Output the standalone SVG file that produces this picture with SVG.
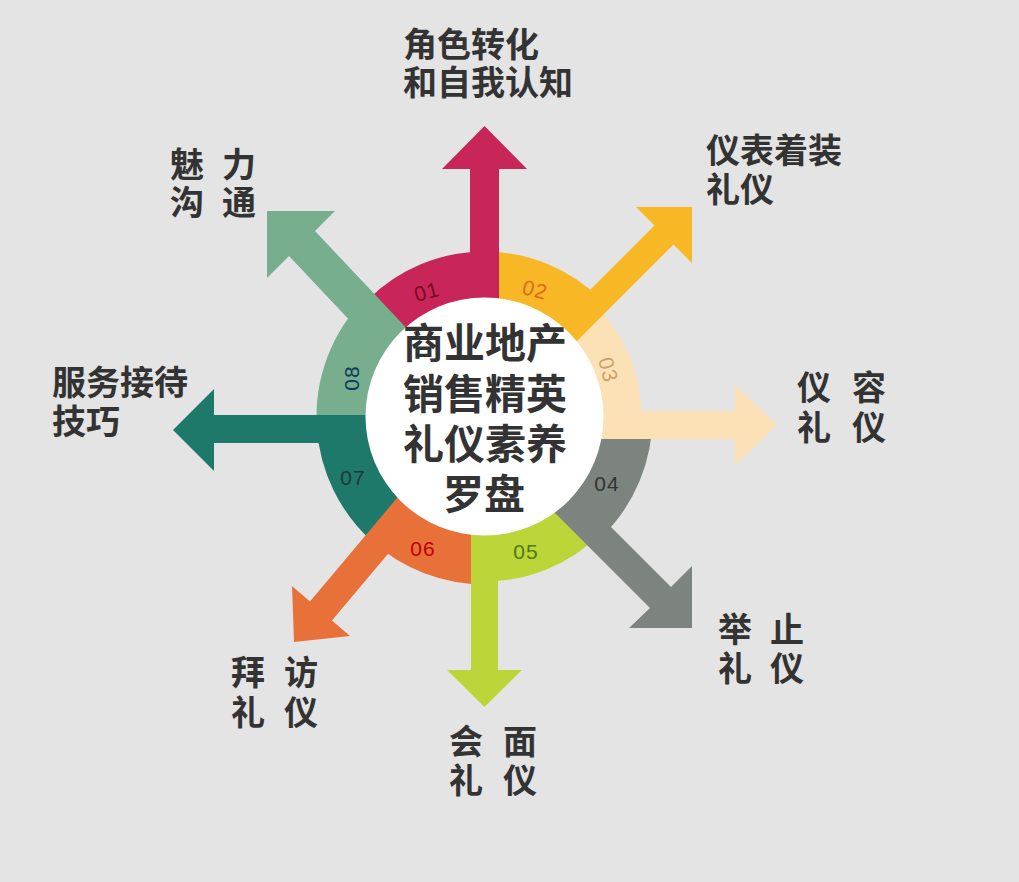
<svg xmlns="http://www.w3.org/2000/svg" width="1019" height="882" viewBox="0 0 1019 882">
<style>
.lbl{font-family:'Liberation Sans','Noto Sans CJK SC',sans-serif;font-weight:bold;font-size:34px;fill:#333333}
.ctr{font-family:'Liberation Sans','Noto Sans CJK SC',sans-serif;font-weight:bold;font-size:41px;fill:#333333;text-anchor:middle}
.num{font-family:'Liberation Sans',Arial,sans-serif;font-size:21px;text-anchor:middle;letter-spacing:1px}
</style>
<rect width="1019" height="882" fill="#E4E4E4"/>
<g id="ring">
<path id="seg01" d="M484.5 416.5 L367.83 299.83 A165 165 0 0 1 484.5 251.5 Z" fill="#C82558"/>
<path id="seg02" d="M484.5 416.5 L484.5 251.5 A165 165 0 0 1 601.17 299.83 Z" fill="#F8B826"/>
<path id="seg03" d="M484.5 416.5 L595.52 305.48 A157 157 0 0 1 641.5 416.5 Z" fill="#FCE1B6"/>
<path id="seg04" d="M484.5 416.5 L652.5 416.5 A168 168 0 0 1 603.29 535.29 Z" fill="#7D847F"/>
<path id="seg05" d="M484.5 416.5 L601.17 533.17 A165 165 0 0 1 484.5 581.5 Z" fill="#BCD63A"/>
<path id="seg06" d="M484.5 416.5 L484.5 584.5 A168 168 0 0 1 372.09 541.35 Z" fill="#E8713A"/>
<path id="seg07" d="M484.5 416.5 L372.09 541.35 A168 168 0 0 1 316.91 428.22 Z" fill="#1E796A"/>
<path id="seg08" d="M484.5 416.5 L316.91 428.22 A168 168 0 0 1 365.71 297.71 Z" fill="#77AE8E"/>
</g>
<g id="connectors">
<polygon id="arrow01" points="470,330 470,169 442,169 484.5,126 527,169 499,169 499,330" fill="#C82558"/>
<polygon id="arrow02" points="510,370 654.5,225.5 636,207 692,207 692,263 673.5,244.5 530,388" fill="#F8B826"/>
<polygon id="arrow03" points="560,411 735,411 735,385 777,425 735,465 735,439 560,439" fill="#FCE1B6"/>
<polygon id="arrow04" points="540,456 671,587 692,566 692,628 629,628 650,608 520,478" fill="#7D847F"/>
<polygon id="arrow05" points="471,500 471,670 447,670 484.5,707 522,670 498,670 498,500" fill="#BCD63A"/>
<polygon id="arrow06" points="420,470.6 310,601.5 292,586 294,642 350,636 332,620.5 440,492" fill="#E8713A"/>
<polygon id="arrow07" points="410,415 214,415 214,389 173,430 214,471 214,443 410,443" fill="#1E796A"/>
<polygon id="arrow08" points="430,353 315,231 335,211 267,211 267,278 289,256 405,379" fill="#77AE8E"/>
</g>
<g id="center">
<circle cx="484.5" cy="416.5" r="119" fill="#FFFFFF"/>
<text class="ctr" x="485" y="358">商业地产</text>
<text class="ctr" x="485" y="409">销售精英</text>
<text class="ctr" x="485" y="459">礼仪素养</text>
<text class="ctr" x="484" y="509">罗盘</text>
</g>
<g id="numbers">
<text class="num" transform="translate(427,292) rotate(-15)" y="7" fill="#7A0A22">01</text>
<text class="num" transform="translate(535,290) rotate(15)" y="7" fill="#E06A1A">02</text>
<text class="num" transform="translate(608,370) rotate(75)" y="7" fill="#C9A46A">03</text>
<text class="num" transform="translate(607,484)" y="7" fill="#333333">04</text>
<text class="num" transform="translate(526,552)" y="7" fill="#4E7A12">05</text>
<text class="num" transform="translate(423,549)" y="7" fill="#C00000">06</text>
<text class="num" transform="translate(353,478)" y="7" fill="#1F3A36">07</text>
<text class="num" transform="translate(352,378) rotate(-90)" y="7" fill="#0E3A5A">08</text>
</g>
<g id="node01"><text class="lbl" x="403" y="57">角色转化</text><text class="lbl" x="403" y="95">和自我认知</text></g>
<g id="node02"><text class="lbl" x="706" y="163">仪表着装</text><text class="lbl" x="706" y="202">礼仪</text></g>
<g id="node03"><text class="lbl" y="400"><tspan x="797">仪</tspan> <tspan x="852">容</tspan></text><text class="lbl" y="440"><tspan x="797">礼</tspan> <tspan x="852">仪</tspan></text></g>
<g id="node04"><text class="lbl" y="642"><tspan x="718">举</tspan> <tspan x="770">止</tspan></text><text class="lbl" y="681"><tspan x="718">礼</tspan> <tspan x="770">仪</tspan></text></g>
<g id="node05"><text class="lbl" y="754"><tspan x="449">会</tspan> <tspan x="503">面</tspan></text><text class="lbl" y="793"><tspan x="449">礼</tspan> <tspan x="503">仪</tspan></text></g>
<g id="node06"><text class="lbl" y="685"><tspan x="231">拜</tspan> <tspan x="284">访</tspan></text><text class="lbl" y="725"><tspan x="231">礼</tspan> <tspan x="284">仪</tspan></text></g>
<g id="node07"><text class="lbl" x="52" y="395">服务接待</text><text class="lbl" x="52" y="434">技巧</text></g>
<g id="node08"><text class="lbl" y="177"><tspan x="170">魅</tspan> <tspan x="222">力</tspan></text><text class="lbl" y="215"><tspan x="170">沟</tspan> <tspan x="222">通</tspan></text></g>
</svg>
